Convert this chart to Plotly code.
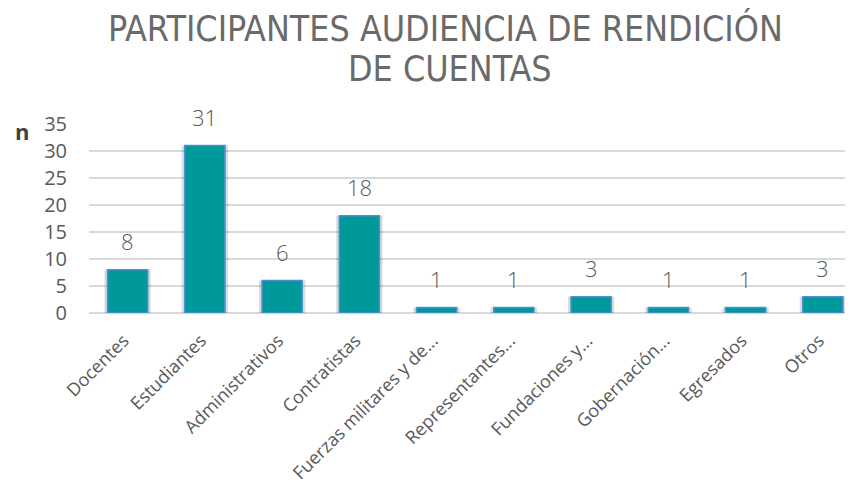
import plotly.graph_objects as go

categories = ["Docentes", "Estudiantes", "Administrativos", "Contratistas",
              "Fuerzas militares y de...", "Representantes...", "Fundaciones y...",
              "Gobernación...", "Egresados", "Otros"]
values = [8, 31, 6, 18, 1, 1, 3, 1, 1, 3]
y_ticks = [0, 5, 10, 15, 20, 25, 30, 35]
title_lines = ["PARTICIPANTES AUDIENCIA DE RENDICIÓN", "DE CUENTAS"]

TXT = "#595959"
fig = go.Figure()

# soft shadow behind bars
fig.add_trace(go.Bar(x=categories, y=values, width=0.6,
                     marker=dict(color="rgba(0,0,0,0.14)", line=dict(width=0)),
                     hoverinfo="skip", showlegend=False))
fig.add_trace(go.Bar(x=categories, y=values, width=0.52,
                     marker=dict(color="#009999", line=dict(color="#4A8FD4", width=1.5)),
                     showlegend=False))

for c, v in zip(categories, values):
    fig.add_annotation(x=c, y=v, text=str(v), showarrow=False, yanchor="bottom",
                       yshift=12, font=dict(family="Open Sans", size=22, weight=300, color=TXT))

fig.add_annotation(xref="paper", yref="paper", x=-0.0995, y=1.0, yshift=-7, text="<b>n</b>",
                   showarrow=False, xanchor="left", yanchor="middle",
                   font=dict(family="Open Sans", size=22, color="#404040"))

title_font = dict(family="DejaVu Sans Condensed", size=35.5, color="#6a6a6a")
for txt, xp, yp in zip(title_lines, [0.466, 0.472], [1.507, 1.293]):
    fig.add_annotation(xref="paper", yref="paper", x=xp, y=yp, text=txt, showarrow=False,
                       xanchor="center", yanchor="middle", font=title_font)

fig.update_layout(
    width=845, height=477,
    margin=dict(l=81, r=0, t=116, b=172),
    paper_bgcolor="white", plot_bgcolor="white",
    barmode="overlay",
    xaxis=dict(range=[-0.5, 9.39], tickangle=-45, showgrid=False, showline=False,
               ticks="outside", ticklen=9, tickcolor="rgba(0,0,0,0)",
               ticklabelshift=-4,
               tickfont=dict(family="Open Sans", size=18, color=TXT)),
    yaxis=dict(range=[0, 35], tickvals=y_ticks, showgrid=True, gridcolor="#D9D9D9",
               gridwidth=1.5, zeroline=True, zerolinecolor="#D9D9D9", zerolinewidth=1.5,
               ticks="outside", ticklen=17, tickcolor="rgba(0,0,0,0)",
               tickfont=dict(family="Open Sans", size=20, color=TXT)),
)

fig.write_html("out.html")
